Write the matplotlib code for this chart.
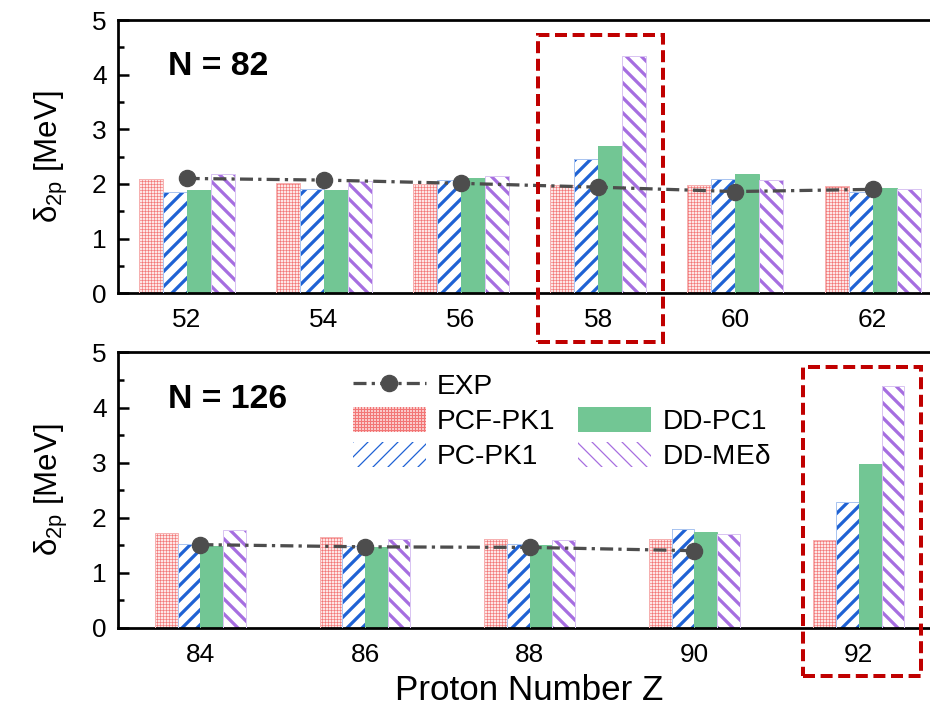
import matplotlib
matplotlib.use("Agg")
import matplotlib.pyplot as plt
from matplotlib.patches import Rectangle
from matplotlib.lines import Line2D
from matplotlib.ticker import MultipleLocator
import numpy as np

plt.rcParams['font.family'] = ['Liberation Sans', 'DejaVu Sans']
plt.rcParams['mathtext.fontset'] = 'custom'
plt.rcParams['mathtext.rm'] = 'Liberation Sans'
plt.rcParams['mathtext.it'] = 'Liberation Sans'

# N = 82 chain
z_top = [52, 54, 56, 58, 60, 62]
pcf_top = [2.09, 2.01, 2.00, 1.98, 1.98, 1.96]
pc_top = [1.86, 1.90, 2.07, 2.45, 2.09, 1.86]
ddpc_top = [1.89, 1.89, 2.10, 2.69, 2.18, 1.92]
ddme_top = [2.18, 2.06, 2.15, 4.34, 2.08, 1.90]
exp_top = [2.10, 2.07, 2.01, 1.94, 1.86, 1.90]

# N = 126 chain
z_bot = [84, 86, 88, 90, 92]
pcf_bot = [1.73, 1.64, 1.61, 1.61, 1.59]
pc_bot = [1.52, 1.48, 1.52, 1.79, 2.28]
ddpc_bot = [1.49, 1.47, 1.50, 1.74, 2.98]
ddme_bot = [1.78, 1.62, 1.60, 1.71, 4.40]
exp_bot = [1.51, 1.47, 1.46, 1.40]

DPI = 90
fig = plt.figure(figsize=(930 / DPI, 715 / DPI), dpi=DPI)
ax_top = fig.add_axes([0.127, 0.590, 0.885, 0.382])
ax_bot = fig.add_axes([0.127, 0.122, 0.885, 0.385])

styles = [
    dict(label='PCF-PK1', face='#fde6e6', hatch='+++++', hcol='#f27676', hlw=0.5, out='#f6b0b0'),
    dict(label='PC-PK1', face='white', hatch='//', hcol='#1f62d4', hlw=2.6, out='#a9c4f0'),
    dict(label='DD-PC1', face='#72c694', hatch=None, hcol='#72c694', hlw=0.5, out='#72c694'),
    dict(label='DD-ME$\\delta$', face='white', hatch='\\\\', hcol='#a66ee0', hlw=2.6, out='#d9c4f2'),
]


def draw_panel(ax, zs, series, exp, width, ntext, box):
    x = np.arange(len(zs))
    handles = []
    for i, (vals, st) in enumerate(zip(series, styles)):
        xs = x + (i - 1.5) * width
        with plt.rc_context({'hatch.linewidth': st['hlw']}):
            bars = ax.bar(xs, vals, width, color=st['face'], edgecolor=st['hcol'],
                          hatch=st['hatch'], linewidth=0, zorder=2)
            for b in bars:
                if hasattr(b, 'set_hatch_linewidth'):
                    b.set_hatch_linewidth(st['hlw'])
        ax.bar(xs, vals, width, facecolor='none', edgecolor=st['out'],
               linewidth=0.8, zorder=3)
        handles.append(bars)
    line, = ax.plot(x[:len(exp)], exp, color='#4d4d4d', linestyle=(0, (4, 1.6, 1, 1.6)),
                    linewidth=2.6, marker='o', markersize=13, markerfacecolor='#4d4d4d',
                    markeredgecolor='#4d4d4d', zorder=5)
    ax.set_xlim(-0.5, len(zs) - 0.5)
    ax.set_ylim(0, 5)
    ax.set_xticks(x)
    ax.set_xticklabels([str(z) for z in zs])
    ax.yaxis.set_major_locator(MultipleLocator(1))
    ax.yaxis.set_minor_locator(MultipleLocator(0.5))
    ax.tick_params(axis='x', length=0, pad=12, labelsize=21)
    ax.tick_params(axis='y', which='major', direction='in', length=9, width=2,
                   left=True, right=True, pad=9, labelsize=21)
    ax.tick_params(axis='y', which='minor', direction='in', length=5, width=2,
                   left=True, right=True)
    for sp in ax.spines.values():
        sp.set_linewidth(2.2)
    ax.set_ylabel('$\\delta_{2p}$ [MeV]', fontsize=25, labelpad=18)
    ax.text(0.061, 0.83, ntext, transform=ax.transAxes, fontsize=27,
            fontweight='bold', va='center', ha='left')
    # highlighted group
    i, x0, x1, y0, y1 = box
    ax.add_patch(Rectangle((i + x0, y0), x1 - x0, y1 - y0, fill=False,
                           edgecolor='#c00000', linewidth=3.2,
                           linestyle=(0, (3, 1.4)), clip_on=False, zorder=6))
    return line, handles


draw_panel(ax_top, z_top, [pcf_top, pc_top, ddpc_top, ddme_top], exp_top,
           0.175, 'N = 82', (3, -0.44, 0.47, -0.90, 4.72))
line, handles = draw_panel(ax_bot, z_bot, [pcf_bot, pc_bot, ddpc_bot, ddme_bot],
                           exp_bot, 0.138, 'N = 126', (4, -0.34, 0.38, -0.87, 4.73))

blank = Line2D([], [], linestyle='none', marker=None)
leg = ax_bot.legend([line, handles[0], handles[1], blank, handles[2], handles[3]],
                    ['EXP', 'PCF-PK1', 'PC-PK1', ' ', 'DD-PC1', 'DD-ME$\\delta$'],
                    ncol=2, frameon=False, loc='upper left',
                    bbox_to_anchor=(0.285, 0.93), fontsize=22.5,
                    handlelength=2.6, handleheight=1.0, labelspacing=0.25,
                    columnspacing=0.8, handletextpad=0.4, borderpad=0,
                    borderaxespad=0)

ax_bot.set_xlabel('Proton Number Z', fontsize=28, labelpad=6)

fig.savefig('out.png', dpi=DPI)
